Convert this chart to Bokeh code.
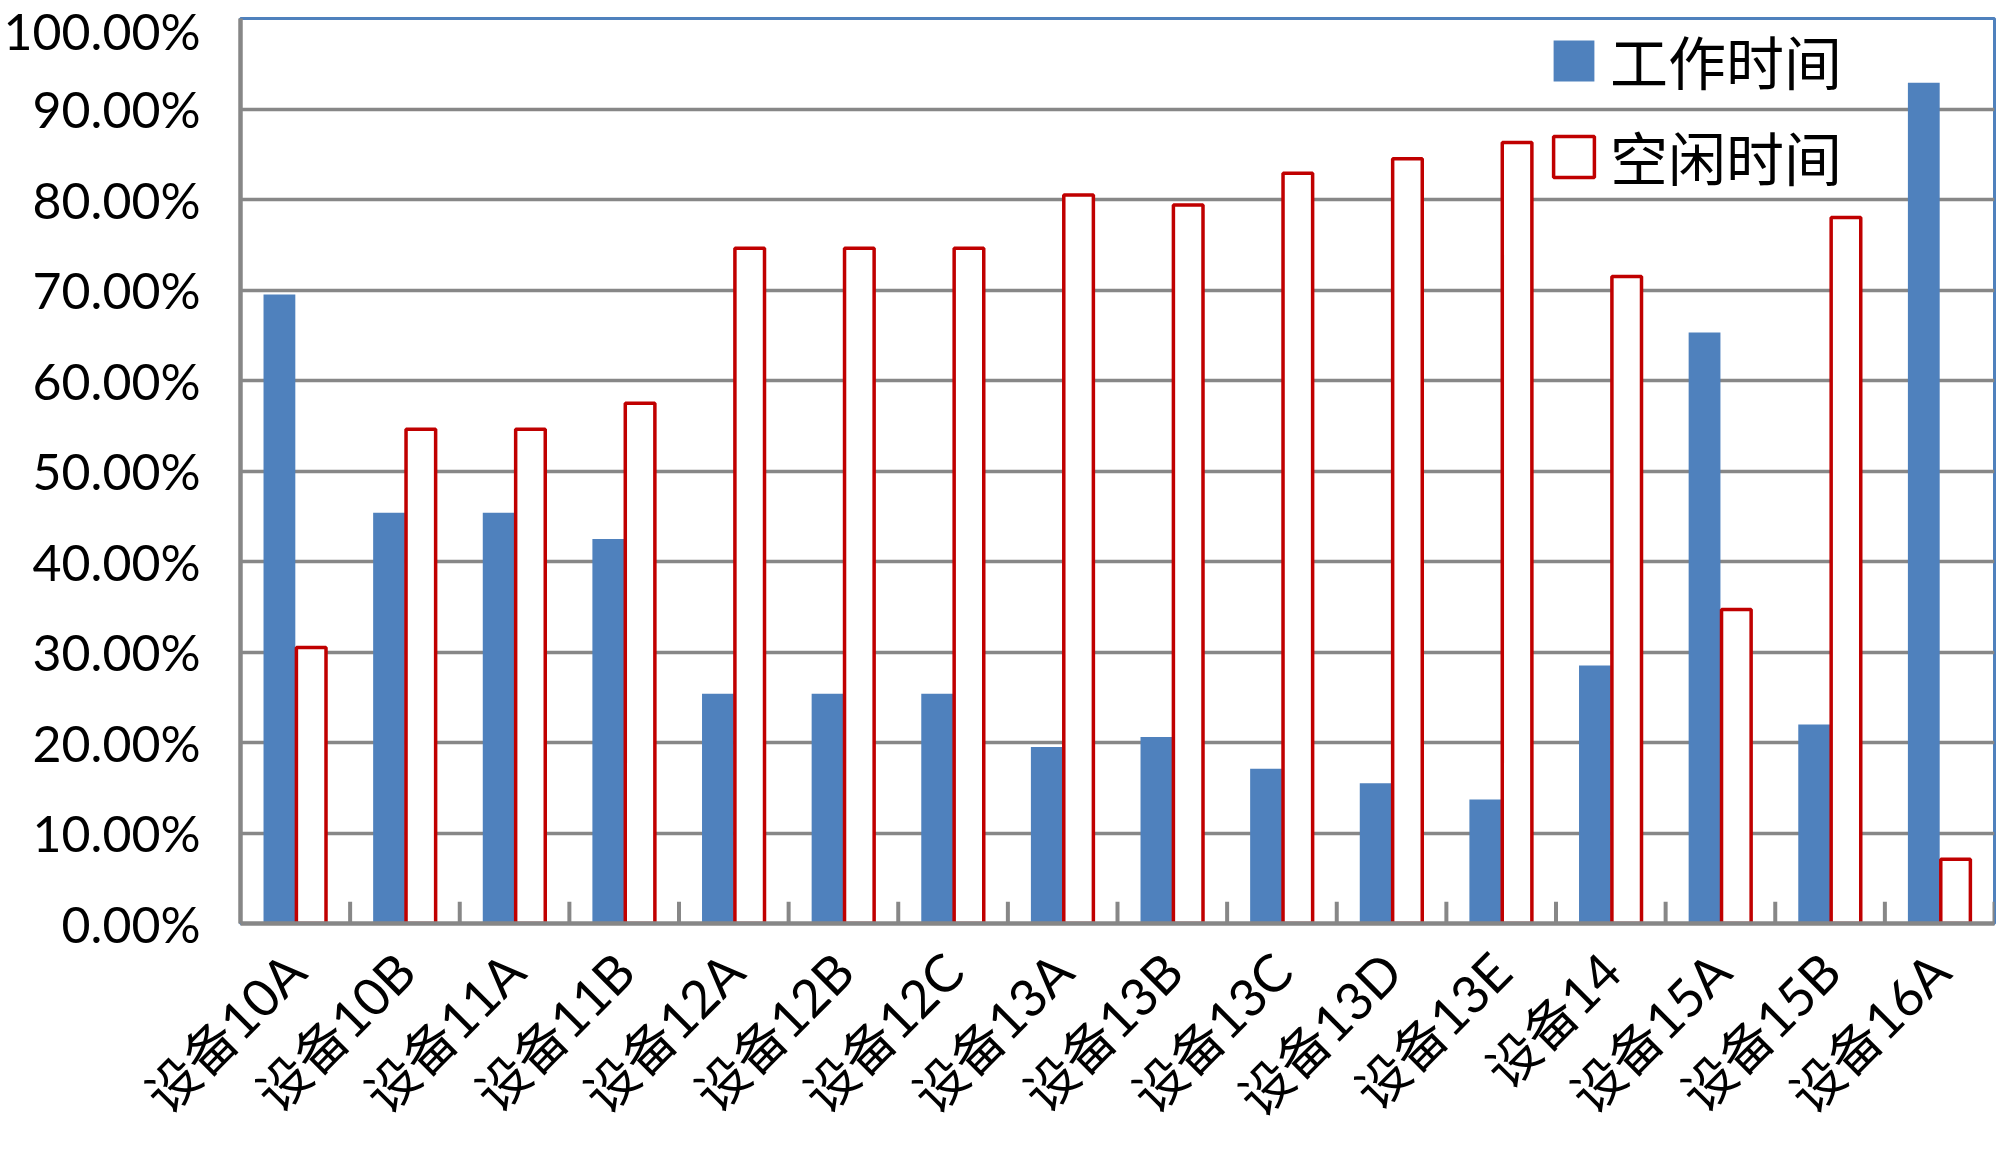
import math
from bokeh.plotting import figure
from bokeh.models import (Range1d, FactorRange, NumeralTickFormatter, FixedTicker,
                          Legend, LegendItem, ColumnDataSource)
from bokeh.transform import dodge
from bokeh.embed import file_html
from bokeh.resources import INLINE

categories = ["设备10A", "设备10B", "设备11A", "设备11B", "设备12A", "设备12B", "设备12C",
              "设备13A", "设备13B", "设备13C", "设备13D", "设备13E", "设备14", "设备15A",
              "设备15B", "设备16A"]
work_time = [0.695, 0.454, 0.454, 0.425, 0.254, 0.254, 0.254, 0.195, 0.206, 0.171,
             0.155, 0.137, 0.285, 0.653, 0.220, 0.929]
idle_time = [0.305, 0.546, 0.546, 0.575, 0.746, 0.746, 0.746, 0.805, 0.794, 0.829,
             0.845, 0.863, 0.715, 0.347, 0.780, 0.071]
y_ticks = [0.0, 0.1, 0.2, 0.3, 0.4, 0.5, 0.6, 0.7, 0.8, 0.9, 1.0]

BLUE = "#4F81BD"
RED = "#C00000"
GREY = "#878787"

src = ColumnDataSource(dict(cat=categories, work=work_time, idle=idle_time,
                            base=[0.0] * len(categories),
                            tick_top=[0.024] * len(categories)))

p = figure(x_range=FactorRange(factors=categories, range_padding=0),
           y_range=Range1d(0, 1.0),
           width=1997, height=1157, output_backend="svg", toolbar_location=None,
           min_border_left=238, min_border_right=3, min_border_top=18,
           min_border_bottom=234)
p.x_range.range_padding = 0

w = 0.29
r_work = p.vbar(x=dodge("cat", -w / 2, range=p.x_range), top="work", width=w,
                source=src, fill_color=BLUE, line_color=None)
r_idle = p.vbar(x=dodge("cat", w / 2, range=p.x_range), top="idle", width=w - 0.02,
                source=src, fill_color="white", line_color=RED, line_width=3.5)

# category boundary tick marks (Excel style, pointing up inside the plot)
p.segment(x0=dodge("cat", 0.5, range=p.x_range), y0="base",
          x1=dodge("cat", 0.5, range=p.x_range), y1="tick_top",
          source=src, line_color=GREY, line_width=4)

p.outline_line_color = BLUE
p.outline_line_width = 3

p.xgrid.grid_line_color = None
p.ygrid.grid_line_color = GREY
p.ygrid.grid_line_width = 3.5
p.yaxis.ticker = FixedTicker(ticks=y_ticks)
p.yaxis.formatter = NumeralTickFormatter(format="0.00%")

for ax in (p.xaxis[0], p.yaxis[0]):
    ax.axis_line_color = GREY
    ax.axis_line_width = 4.5
    ax.major_tick_line_color = None
    ax.minor_tick_line_color = None
    ax.major_tick_in = 0
    ax.major_tick_out = 0
    ax.major_label_text_color = "black"

p.yaxis.major_label_text_font = "Lato"
p.yaxis.major_label_text_font_size = "50px"
p.yaxis.major_label_standoff = 40

p.xaxis.major_label_text_font = "Lato, 'Noto Sans CJK SC'"
p.xaxis.major_label_text_font_size = "52px"
p.xaxis.major_label_orientation = math.pi / 4
p.xaxis.major_label_standoff = 38

legend = Legend(items=[LegendItem(label="工作时间", renderers=[r_work]),
                       LegendItem(label="空闲时间", renderers=[r_idle])],
                location=(1308, 725))
legend.background_fill_alpha = 0
legend.border_line_color = None
legend.padding = 0
legend.margin = 0
legend.glyph_width = 51
legend.glyph_height = 51
legend.label_standoff = 11
legend.spacing = 12
legend.label_text_font = "Noto Sans CJK SC"
legend.label_text_font_size = "58px"
legend.label_text_color = "black"
p.add_layout(legend)

open("out.html", "w").write(file_html(p, INLINE))
